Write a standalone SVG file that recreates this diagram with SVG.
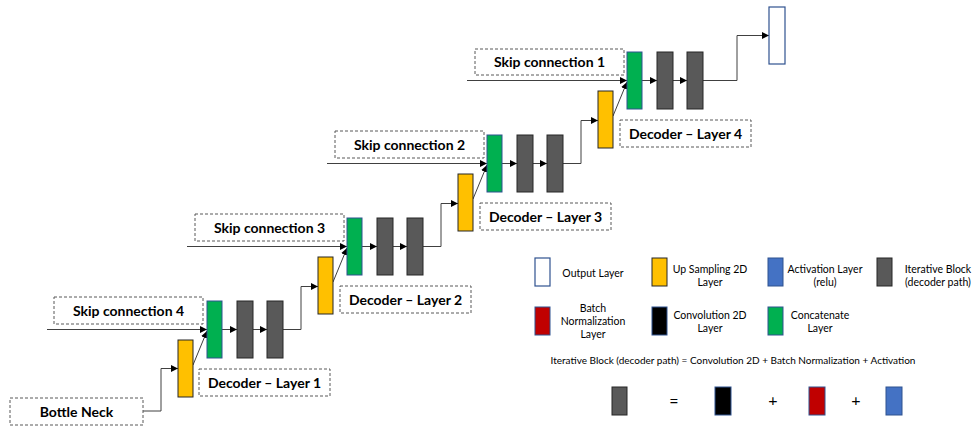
<svg xmlns="http://www.w3.org/2000/svg" width="972" height="426" viewBox="0 0 972 426">
<style>
.bg{fill:#fff}
.lbl{fill:#fff;stroke:#595959;stroke-width:1;stroke-dasharray:3,2}
.t{font-family:Lato,"Liberation Sans",sans-serif;font-weight:bold;font-size:14px;fill:#000;text-anchor:middle}
.lt{font-family:Lato,"Liberation Sans",sans-serif;font-size:10.5px;fill:#000;text-anchor:middle}
.ft{font-family:Lato,"Liberation Sans",sans-serif;font-size:10px;fill:#000;text-anchor:middle}
.sym{font-family:Lato,"Liberation Sans",sans-serif;font-size:16px;fill:#000;text-anchor:middle}
.green{fill:#00B050;stroke:#2F528F;stroke-width:1}
.gray{fill:#595959;stroke:#262626;stroke-width:1}
.yellow{fill:#FFC000;stroke:#262626;stroke-width:1}
.out{fill:#fff;stroke:#2F528F;stroke-width:1.2}
.blue{fill:#4472C4;stroke:#2F528F;stroke-width:1}
.red{fill:#C00000;stroke:#2F528F;stroke-width:1}
.black{fill:#000;stroke:#2F528F;stroke-width:1}
.ca{fill:none;stroke:#404040;stroke-width:1;marker-end:url(#ah)}
</style>
<defs>
<marker id="ah" viewBox="0 0 10 10" refX="10" refY="5" markerWidth="7" markerHeight="7" markerUnits="userSpaceOnUse" orient="auto"><path d="M0,0 L10,5 L0,10 z" fill="#000"/></marker>
</defs>
<rect class="bg" x="0" y="0" width="972" height="426"/>

<g id="connectors">
<path class="ca" d="M143,411 H161 V368.5 H178"/>
<path class="ca" d="M47,329.5 H207"/>
<path class="ca" d="M193,365 L207,331"/>
<path class="ca" d="M222,329.5 H237"/>
<path class="ca" d="M253,329.5 H267"/>
<path class="ca" d="M283,329.5 H301 V286.5 H318"/>
<path class="ca" d="M187,246.5 H347"/>
<path class="ca" d="M333,282 L347,248"/>
<path class="ca" d="M362,246.5 H377"/>
<path class="ca" d="M393,246.5 H407"/>
<path class="ca" d="M423,246.5 H441 V203.5 H458"/>
<path class="ca" d="M327,163.5 H487"/>
<path class="ca" d="M473,199 L487,165"/>
<path class="ca" d="M502,163.5 H517"/>
<path class="ca" d="M533,163.5 H547"/>
<path class="ca" d="M563,163.5 H581 V120.5 H598"/>
<path class="ca" d="M467,80.5 H627"/>
<path class="ca" d="M613,116 L627,82"/>
<path class="ca" d="M642,80.5 H657"/>
<path class="ca" d="M673,80.5 H687"/>
<path class="ca" d="M703,80.5 H737 V35.5 H769"/>
</g>

<g id="bottleneck"><rect class="lbl" x="10" y="398" width="133" height="27"/><text class="t" x="76.5" y="416.5">Bottle Neck</text></g>

<g id="skip4"><rect class="lbl" x="54" y="297" width="149" height="27"/><text class="t" x="128.5" y="315.5">Skip connection 4</text></g>
<g id="up1"><rect class="yellow" x="178" y="340" width="15" height="57"/></g>
<g id="concat1"><rect class="green" x="207" y="301" width="15" height="57"/></g>
<g id="iter1a"><rect class="gray" x="237" y="301" width="16" height="57"/></g>
<g id="iter1b"><rect class="gray" x="267" y="301" width="16" height="57"/></g>
<g id="dec1"><rect class="lbl" x="199" y="369" width="131" height="27"/><text class="t" x="264.5" y="387.5">Decoder – Layer 1</text></g>

<g id="skip3"><rect class="lbl" x="195" y="214" width="149" height="27"/><text class="t" x="269.5" y="232.5">Skip connection 3</text></g>
<g id="up2"><rect class="yellow" x="318" y="257" width="15" height="57"/></g>
<g id="concat2"><rect class="green" x="347" y="218" width="15" height="57"/></g>
<g id="iter2a"><rect class="gray" x="377" y="218" width="16" height="57"/></g>
<g id="iter2b"><rect class="gray" x="407" y="218" width="16" height="57"/></g>
<g id="dec2"><rect class="lbl" x="340" y="286" width="131" height="27"/><text class="t" x="405.5" y="304.5">Decoder – Layer 2</text></g>

<g id="skip2"><rect class="lbl" x="335" y="131" width="149" height="27"/><text class="t" x="409.5" y="149.5">Skip connection 2</text></g>
<g id="up3"><rect class="yellow" x="458" y="174" width="15" height="57"/></g>
<g id="concat3"><rect class="green" x="487" y="135" width="15" height="57"/></g>
<g id="iter3a"><rect class="gray" x="517" y="135" width="16" height="57"/></g>
<g id="iter3b"><rect class="gray" x="547" y="135" width="16" height="57"/></g>
<g id="dec3"><rect class="lbl" x="480" y="203" width="131" height="27"/><text class="t" x="545.5" y="221.5">Decoder – Layer 3</text></g>

<g id="skip1"><rect class="lbl" x="475" y="49" width="149" height="26"/><text class="t" x="549.5" y="67">Skip connection 1</text></g>
<g id="up4"><rect class="yellow" x="598" y="91" width="15" height="57"/></g>
<g id="concat4"><rect class="green" x="627" y="52" width="15" height="57"/></g>
<g id="iter4a"><rect class="gray" x="657" y="52" width="16" height="57"/></g>
<g id="iter4b"><rect class="gray" x="687" y="52" width="16" height="57"/></g>
<g id="dec4"><rect class="lbl" x="620" y="120" width="131" height="27"/><text class="t" x="685.5" y="138.5">Decoder – Layer 4</text></g>

<g id="output"><rect class="out" x="769" y="7" width="16" height="57"/></g>

<g id="legend">
<rect class="out" x="535" y="258" width="15" height="28"/>
<text class="lt" x="593" y="276.5">Output Layer</text>
<rect class="yellow" x="652" y="258" width="15" height="28"/>
<text class="lt" x="710" y="272.5">Up Sampling 2D</text>
<text class="lt" x="710" y="285.5">Layer</text>
<rect class="blue" x="768" y="258" width="15" height="28"/>
<text class="lt" x="825" y="272.5">Activation Layer</text>
<text class="lt" x="825" y="285.5">(relu)</text>
<rect class="gray" x="877" y="258" width="15" height="28"/>
<text class="lt" x="938" y="272.5">Iterative Block</text>
<text class="lt" x="938" y="285.5">(decoder path)</text>
<rect class="red" x="535" y="307" width="15" height="28"/>
<text class="lt" x="593" y="311.5">Batch</text>
<text class="lt" x="593" y="324.5">Normalization</text>
<text class="lt" x="593" y="337.5">Layer</text>
<rect class="black" x="652" y="307" width="15" height="28"/>
<text class="lt" x="710" y="318.5">Convolution 2D</text>
<text class="lt" x="710" y="331.5">Layer</text>
<rect class="green" x="768" y="307" width="15" height="28"/>
<text class="lt" x="820" y="318.5">Concatenate</text>
<text class="lt" x="820" y="331.5">Layer</text>
<text class="ft" x="733" y="363.5">Iterative Block (decoder path) = Convolution 2D + Batch Normalization + Activation</text>
<rect class="gray" x="612" y="387" width="15" height="28"/>
<text class="sym" x="674" y="407">=</text>
<rect class="black" x="715" y="387" width="16" height="28"/>
<text class="sym" x="773" y="406">+</text>
<rect class="red" x="809" y="387" width="16" height="28"/>
<text class="sym" x="856" y="406">+</text>
<rect class="blue" x="886" y="387" width="16" height="28"/>
</g>
</svg>
